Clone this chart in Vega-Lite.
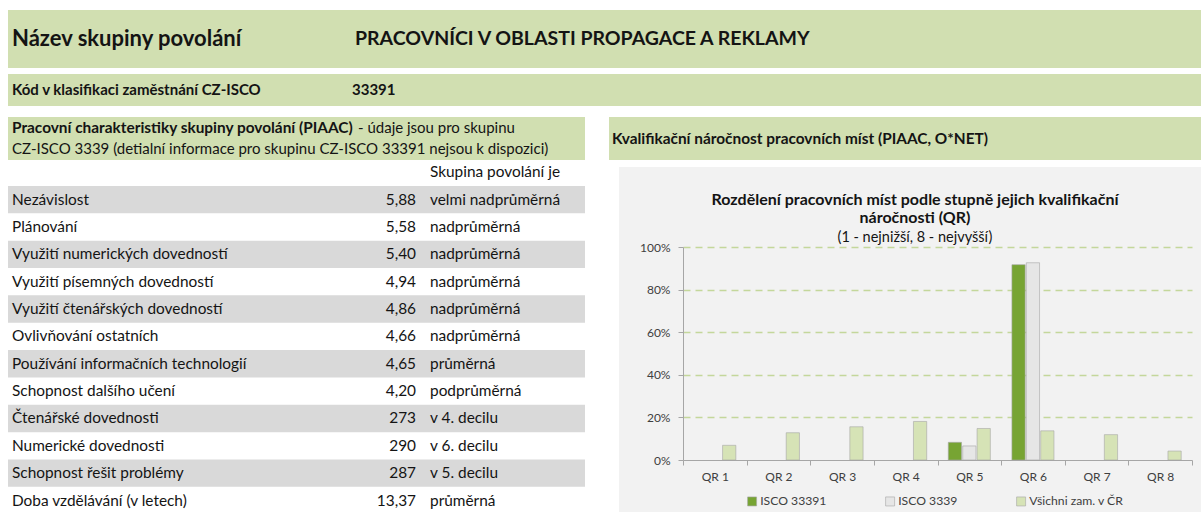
{
  "$schema": "https://vega.github.io/schema/vega-lite/v6.json",
  "padding": {"left": 8, "top": 10, "right": 0, "bottom": 0},
  "background": "white",
  "config": {
    "view": {"stroke": null},
    "font": "Lato",
    "text": {"font": "Lato"}
  },
  "spacing": 11,
  "vconcat": [
    {
      "spacing": 6,
      "vconcat": [
        {
          "width": 1193,
          "height": 58,
          "view": {"fill": "#d1dfb1", "stroke": null},
          "data": {"values": [{"name": "Název skupiny povolání", "title": "PRACOVNÍCI V OBLASTI PROPAGACE A REKLAMY"}]},
          "layer": [
            {
              "mark": {"type": "text", "align": "left", "baseline": "middle", "fontSize": 22, "fontWeight": "bold", "color": "#141414"},
              "encoding": {
                "text": {"field": "name"},
                "x": {"datum": "name", "type": "nominal", "scale": {"type": "point", "domain": ["name", "title"], "range": [4, 347], "padding": 0}, "axis": null}
              }
            },
            {
              "mark": {"type": "text", "align": "left", "baseline": "middle", "fontSize": 19.5, "fontWeight": "bold", "color": "#141414"},
              "encoding": {
                "text": {"field": "title"},
                "x": {"datum": "title", "type": "nominal", "axis": null}
              }
            }
          ]
        },
        {
          "width": 1193,
          "height": 32,
          "view": {"fill": "#d1dfb1", "stroke": null},
          "data": {"values": [{"name": "Kód v klasifikaci zaměstnání CZ-ISCO", "code": "33391"}]},
          "layer": [
            {
              "mark": {"type": "text", "align": "left", "baseline": "middle", "fontSize": 15, "fontWeight": "bold", "color": "#141414"},
              "encoding": {
                "text": {"field": "name"},
                "x": {"datum": "name", "type": "nominal", "scale": {"type": "point", "domain": ["name", "code"], "range": [4, 344], "padding": 0}, "axis": null}
              }
            },
            {
              "mark": {"type": "text", "align": "left", "baseline": "middle", "fontSize": 15, "fontWeight": "bold", "color": "#141414"},
              "encoding": {
                "text": {"field": "code"},
                "x": {"datum": "code", "type": "nominal", "axis": null}
              }
            }
          ]
        }
      ]
    },
    {
      "spacing": 24,
      "hconcat": [
        {
          "spacing": 0,
          "vconcat": [
            {
              "width": 577,
              "height": 43,
              "view": {"fill": "#d1dfb1", "stroke": null},
              "data": {"values": [{"bold": "Pracovní charakteristiky skupiny povolání (PIAAC)", "rest": "- údaje jsou pro skupinu", "line2": "CZ-ISCO 3339 (detialní informace pro skupinu CZ-ISCO 33391 nejsou k dispozici)"}]},
              "layer": [
                {
                  "mark": {"type": "text", "align": "left", "baseline": "middle", "fontSize": 15.4, "fontWeight": "bold", "color": "#141414"},
                  "encoding": {
                    "text": {"field": "bold"},
                    "x": {"datum": "a", "type": "nominal", "scale": {"type": "point", "domain": ["a", "b"], "range": [4, 350], "padding": 0}, "axis": null},
                    "y": {"datum": "l1", "type": "nominal", "scale": {"type": "point", "domain": ["l1", "l2"], "range": [10.5, 31.5], "padding": 0}, "axis": null}
                  }
                },
                {
                  "mark": {"type": "text", "align": "left", "baseline": "middle", "fontSize": 15, "color": "#141414"},
                  "encoding": {
                    "text": {"field": "rest"},
                    "x": {"datum": "b", "type": "nominal", "axis": null},
                    "y": {"datum": "l1", "type": "nominal", "axis": null}
                  }
                },
                {
                  "mark": {"type": "text", "align": "left", "baseline": "middle", "fontSize": 15, "color": "#141414"},
                  "encoding": {
                    "text": {"field": "line2"},
                    "x": {"datum": "a", "type": "nominal", "axis": null},
                    "y": {"datum": "l2", "type": "nominal", "axis": null}
                  }
                }
              ]
            },
            {
              "width": 577,
              "height": 352,
              "data": {"values": [
                {"row": 0, "label": "", "value": "", "category": "Skupina povolání je"},
                {"row": 1, "label": "Nezávislost", "value": "5,88", "category": "velmi nadprůměrná"},
                {"row": 2, "label": "Plánování", "value": "5,58", "category": "nadprůměrná"},
                {"row": 3, "label": "Využití numerických dovedností", "value": "5,40", "category": "nadprůměrná"},
                {"row": 4, "label": "Využití písemných dovedností", "value": "4,94", "category": "nadprůměrná"},
                {"row": 5, "label": "Využití čtenářských dovedností", "value": "4,86", "category": "nadprůměrná"},
                {"row": 6, "label": "Ovlivňování ostatních", "value": "4,66", "category": "nadprůměrná"},
                {"row": 7, "label": "Používání informačních technologií", "value": "4,65", "category": "průměrná"},
                {"row": 8, "label": "Schopnost dalšího učení", "value": "4,20", "category": "podprůměrná"},
                {"row": 9, "label": "Čtenářské dovednosti", "value": "273", "category": "v 4. decilu"},
                {"row": 10, "label": "Numerické dovednosti", "value": "290", "category": "v 6. decilu"},
                {"row": 11, "label": "Schopnost řešit problémy", "value": "287", "category": "v 5. decilu"},
                {"row": 12, "label": "Doba vzdělávání (v letech)", "value": "13,37", "category": "průměrná"}
              ]},
              "resolve": {"scale": {"x": "independent"}},
              "layer": [
                {
                  "transform": [{"filter": "datum.row % 2 == 1"}],
                  "mark": {"type": "rect", "color": "#d9d9d9"},
                  "encoding": {
                    "y": {"field": "row", "type": "ordinal", "scale": {"type": "band", "domain": [0, 1, 2, 3, 4, 5, 6, 7, 8, 9, 10, 11, 12], "range": [-1.4, 354.2], "paddingInner": 0, "paddingOuter": 0}, "axis": null}
                  }
                },
                {
                  "mark": {"type": "text", "align": "left", "baseline": "middle", "fontSize": 15.4, "color": "#141414"},
                  "encoding": {
                    "text": {"field": "label"},
                    "y": {"field": "row", "type": "ordinal", "axis": null},
                    "x": {"datum": "label", "type": "nominal", "scale": {"type": "point", "domain": ["label"], "range": [4, 4], "padding": 0}, "axis": null}
                  }
                },
                {
                  "mark": {"type": "text", "align": "right", "baseline": "middle", "fontSize": 15.4, "color": "#141414"},
                  "encoding": {
                    "text": {"field": "value"},
                    "y": {"field": "row", "type": "ordinal", "axis": null},
                    "x": {"datum": "value", "type": "nominal", "scale": {"type": "point", "domain": ["value"], "range": [408, 408], "padding": 0}, "axis": null}
                  }
                },
                {
                  "mark": {"type": "text", "align": "left", "baseline": "middle", "fontSize": 15.4, "color": "#141414"},
                  "encoding": {
                    "text": {"field": "category"},
                    "y": {"field": "row", "type": "ordinal", "axis": null},
                    "x": {"datum": "category", "type": "nominal", "scale": {"type": "point", "domain": ["category"], "range": [422, 422], "padding": 0}, "axis": null}
                  }
                }
              ]
            }
          ]
        },
        {
          "spacing": 7,
          "vconcat": [
            {
              "width": 592,
              "height": 43,
              "view": {"fill": "#d1dfb1", "stroke": null},
              "data": {"values": [{"t": "Kvalifikační náročnost pracovních míst (PIAAC, O*NET)"}]},
              "mark": {"type": "text", "align": "left", "baseline": "middle", "fontSize": 15.4, "fontWeight": "bold", "color": "#141414"},
              "encoding": {
                "text": {"field": "t"},
                "x": {"datum": "t", "type": "nominal", "scale": {"type": "point", "domain": ["t"], "range": [3, 3], "padding": 0}, "axis": null}
              }
            },
            {
              "spacing": 0,
              "hconcat": [
                {
                  "width": 10,
                  "height": 345,
                  "view": {"fill": "#ffffff", "stroke": null},
                  "data": {"values": [{"t": ""}]},
                  "mark": {"type": "text"},
                  "encoding": {"text": {"field": "t"}}
                },
                {
                  "width": 582,
                  "height": 345,
                  "view": {"fill": "#f2f2f2", "stroke": null},
                  "title": {
                    "text": ["Rozdělení pracovních míst podle stupně jejich kvalifikační", "náročnosti (QR)"],
                    "subtitle": "(1 - nejnižší, 8 - nejvyšší)",
                    "anchor": "middle",
                    "font": "Lato",
                    "fontSize": 16,
                    "fontWeight": "bold",
                    "color": "#141414",
                    "lineHeight": 18,
                    "subtitleFont": "Lato",
                    "subtitleFontSize": 14.5,
                    "subtitleColor": "#141414",
                    "subtitlePadding": 5,
                    "offset": -77,
                    "dx": 5
                  },
                  "data": {"values": [
                    {"qr": "QR 1", "series": "Všichni zam. v ČR", "share": 0.069},
                    {"qr": "QR 2", "series": "Všichni zam. v ČR", "share": 0.128},
                    {"qr": "QR 3", "series": "Všichni zam. v ČR", "share": 0.156},
                    {"qr": "QR 4", "series": "Všichni zam. v ČR", "share": 0.181},
                    {"qr": "QR 5", "series": "ISCO 33391", "share": 0.083},
                    {"qr": "QR 5", "series": "ISCO 3339", "share": 0.066},
                    {"qr": "QR 5", "series": "Všichni zam. v ČR", "share": 0.148},
                    {"qr": "QR 6", "series": "ISCO 33391", "share": 0.917},
                    {"qr": "QR 6", "series": "ISCO 3339", "share": 0.926},
                    {"qr": "QR 6", "series": "Všichni zam. v ČR", "share": 0.137},
                    {"qr": "QR 7", "series": "Všichni zam. v ČR", "share": 0.119},
                    {"qr": "QR 8", "series": "Všichni zam. v ČR", "share": 0.042}
                  ]},
                  "mark": {"type": "bar", "stroke": "#a6a6a6", "strokeWidth": 0.6},
                  "encoding": {
                    "x": {
                      "field": "qr", "type": "nominal",
                      "scale": {"domain": ["QR 1", "QR 2", "QR 3", "QR 4", "QR 5", "QR 6", "QR 7", "QR 8"], "range": [64, 573], "paddingInner": 0, "paddingOuter": 0},
                      "axis": {"title": null, "offset": -52, "tickBand": "extent", "labelAngle": 0, "labelPadding": 6, "tickSize": 5, "domainColor": "#a6a6a6", "tickColor": "#a6a6a6", "labelFontSize": 12, "labelColor": "#404040", "labelFont": "Lato"}
                    },
                    "xOffset": {
                      "field": "series", "type": "nominal",
                      "scale": {"domain": ["ISCO 33391", "ISCO 3339", "Všichni zam. v ČR"], "paddingInner": 0.08, "paddingOuter": 0.75}
                    },
                    "y": {
                      "field": "share", "type": "quantitative",
                      "scale": {"domain": [0, 1], "range": [293, 80], "nice": false},
                      "axis": {
                        "title": null, "format": ".0%", "values": [0, 0.2, 0.4, 0.6, 0.8, 1], "offset": -64,
                        "grid": true, "gridDash": [7, 5], "gridWidth": 1.3,
                        "gridColor": {"condition": {"test": "datum.value === 0", "value": "transparent"}, "value": "#c4d79b"},
                        "domainColor": "#a6a6a6", "tickColor": "#a6a6a6", "tickSize": 5, "labelPadding": 8,
                        "labelFontSize": 12, "labelColor": "#404040", "labelFont": "Lato"
                      }
                    },
                    "color": {
                      "field": "series", "type": "nominal",
                      "scale": {"domain": ["ISCO 33391", "ISCO 3339", "Všichni zam. v ČR"], "range": ["#77a433", "#e6e6e6", "#d6e3b6"]},
                      "legend": {"orient": "none", "legendX": 738, "legendY": 485, "direction": "horizontal", "title": null, "symbolType": "square", "symbolSize": 81, "symbolStrokeWidth": 0.6, "symbolStrokeColor": "#a6a6a6", "labelFontSize": 12.2, "labelColor": "#404040", "labelFont": "Lato", "labelOffset": 2, "columnPadding": 57}
                    }
                  }
                }
              ]
            }
          ]
        }
      ]
    }
  ]
}
